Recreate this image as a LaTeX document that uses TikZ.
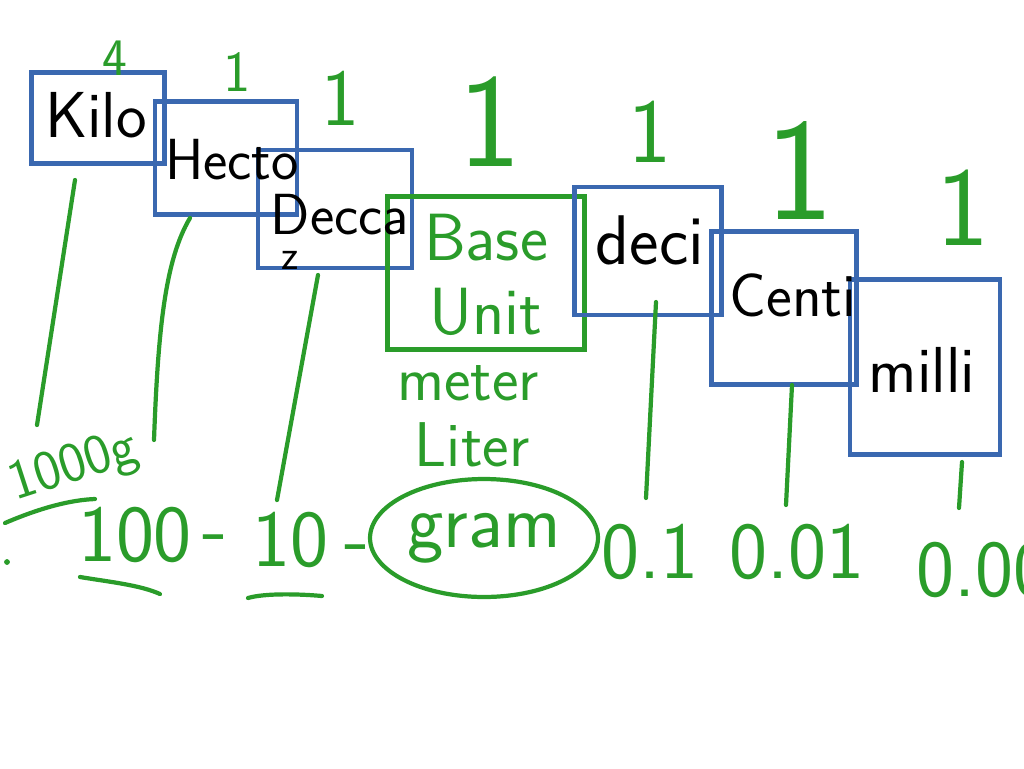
\documentclass[tikz,border=0pt]{standalone}
\usepackage{tikz}
\usetikzlibrary{shapes.geometric}

\definecolor{penblue}{RGB}{58,104,176}
\definecolor{pengreen}{RGB}{42,156,42}

\tikzset{
  unitbox/.style={draw=penblue, line width=2.6pt, inner sep=0pt},
  prefixlbl/.style={font=\sffamily\fontsize{#1}{#1}\selectfont, text=black},
  prefixlbl/.default=32,
  tallylbl/.style={font=\sffamily\fontsize{#1}{#1}\selectfont, text=pengreen},
  tallylbl/.default=40,
  penstroke/.style={draw=pengreen, line width=2.4pt, line cap=round, line join=round}
}

\begin{document}
\begin{tikzpicture}[x=0.02cm, y=-0.02cm]
        \useasboundingbox (0,0) rectangle (1024,768);
        \clip (0,0) rectangle (1024,768);

        % prefix boxes
        \node[unitbox, minimum width=2.66cm, minimum height=1.82cm] (kilo) at (98,118) {};
        \node[unitbox, minimum width=2.84cm, minimum height=2.26cm] (hecto) at (226,158) {};
        \node[unitbox, minimum width=3.08cm, minimum height=2.36cm] (decca) at (335,209) {};
        \node[unitbox, draw=pengreen, minimum width=3.94cm, minimum height=3.06cm] (base) at (486,273) {};
        \node[unitbox, minimum width=2.94cm, minimum height=2.56cm] (deci) at (648,251) {};
        \node[unitbox, minimum width=2.90cm, minimum height=3.06cm] (centi) at (784,308) {};
        \node[unitbox, minimum width=3.00cm, minimum height=3.50cm] (milli) at (925,367) {};

        \node[prefixlbl=37] (kilotxt) at (96,115) {Kilo};
        \node[prefixlbl=33] (hectotxt) at (232,160) {Hecto};
        \node[prefixlbl=33] (deccatxt) at (340,215) {Decca};
        \node[prefixlbl=24] (zmark) at (290,260) {z};
        \node[prefixlbl=40] (decitxt) at (650,240) {deci};
        \node[prefixlbl=35] (centitxt) at (793,295) {Centi};
        \node[prefixlbl=37] (millitxt) at (922,370) {milli};

        \node[tallylbl=38, align=center, font=\sffamily\fontsize{38}{42}\selectfont] (basetxt) at (486,275) {Base\\Unit};
        \node[tallylbl=36] (meter) at (468,383) {meter};
        \node[tallylbl=36] (liter) at (472,445) {Liter};
        \node[tallylbl=44, draw=pengreen, line width=2.4pt, ellipse, minimum width=4.56cm, minimum height=2.36cm, inner sep=0pt] (gram) at (484,538) {gram};

        % counts above the boxes
        \node[tallylbl=30] (nkilo) at (115,58) {4};
        \node[tallylbl=33] (nhecto) at (237,72) {1};
        \node[tallylbl=46] (ndecca) at (340,98) {1};
        \node[tallylbl=76] (nbase) at (490,122) {1};
        \node[tallylbl=52] (ndeci) at (650,132) {1};
        \node[tallylbl=83] (ncenti) at (800,170) {1};
        \node[tallylbl=64] (nmilli) at (963,208) {1};

        % values
        \node[tallylbl=32, rotate=18] (v1000) at (74,468) {1000g};
        \node[tallylbl=46] (v100) at (135,535) {100};
        \node[tallylbl=46] (dashA) at (215,545) {-};
        \node[tallylbl=46] (v10) at (290,540) {10};
        \node[tallylbl=46] (dashB) at (357,555) {-};
        \node[tallylbl=46] (v01) at (650,552) {0.1};
        \node[tallylbl=46] (v001) at (797,552) {0.01};
        \node[tallylbl=46, anchor=west] (v0001) at (910,570) {0.001};
        \filldraw[pengreen] (7,562) circle (2.5);

        % drop lines
        \coordinate (kiloT) at (75,180);   \coordinate (kiloB) at (37,425);
        \coordinate (hectoT) at (190,218); \coordinate (hectoB) at (154,440);
        \coordinate (deccaT) at (318,275); \coordinate (deccaB) at (277,500);
        \coordinate (deciT) at (656,302);  \coordinate (deciB) at (646,498);
        \coordinate (centiT) at (792,385); \coordinate (centiB) at (786,505);
        \coordinate (milliT) at (962,462); \coordinate (milliB) at (959,508);

        \draw[penstroke] (kiloT) -- (kiloB);
        \draw[penstroke] (hectoT) .. controls (165,260) and (158,330) .. (hectoB);
        \draw[penstroke] (deccaT) -- (deccaB);
        \draw[penstroke] (deciT) -- (deciB);
        \draw[penstroke] (centiT) -- (centiB);
        \draw[penstroke] (milliT) -- (milliB);

        % underlines
        \draw[penstroke] (5,523) .. controls (40,508) and (70,500) .. (95,499);
        \draw[penstroke] (80,577) .. controls (110,582) and (140,585) .. (160,594);
        \draw[penstroke] (248,598) .. controls (265,593) and (300,594) .. (322,596);
    \end{tikzpicture}
\end{document}
